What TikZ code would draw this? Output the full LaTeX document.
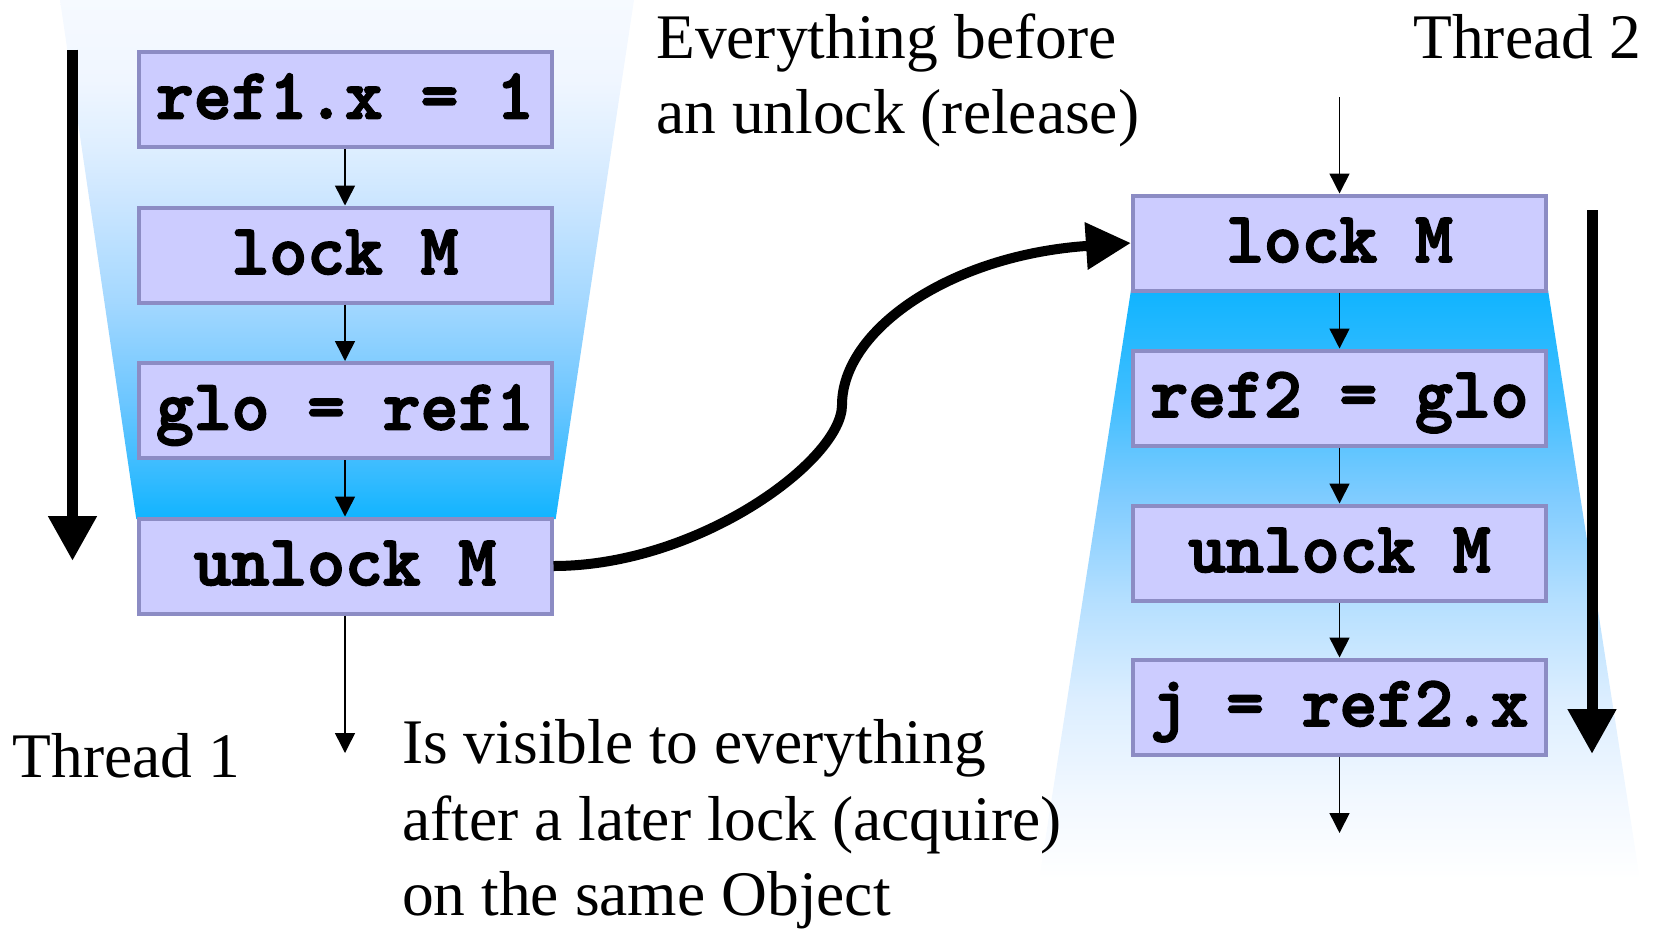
\documentclass[tikz,border=0pt]{standalone}
\usepackage{fontspec}
\setmainfont{Liberation Serif}
\newfontfamily\codefont{lmmonolt10-bold.otf}[FakeBold=2.5]
\usetikzlibrary{arrows.meta}
\definecolor{boxfill}{HTML}{CCCCFF}
\definecolor{boxline}{HTML}{8C8CC4}
\definecolor{sA}{HTML}{10B4FF}
\definecolor{sB}{HTML}{30BAFF}
\definecolor{sC}{HTML}{6CC6FF}
\definecolor{sD}{HTML}{A4D8FF}
\definecolor{sE}{HTML}{CCE6FF}
\definecolor{sF}{HTML}{DDEEFF}
\definecolor{sG}{HTML}{F0F6FF}
\definecolor{sH}{HTML}{F6FAFF}
\definecolor{rA}{HTML}{10B4FF}
\definecolor{rB}{HTML}{40BEFF}
\definecolor{rC}{HTML}{80CCFF}
\definecolor{rD}{HTML}{B4DFFF}
\definecolor{rE}{HTML}{DCEEFF}
\definecolor{rF}{HTML}{F2F8FF}
\definecolor{rG}{HTML}{FFFFFF}
\pgfdeclareverticalshading{trapL}{100bp}{color(0bp)=(sA); color(25bp)=(sA); color(28.6bp)=(sB); color(36.3bp)=(sC); color(46bp)=(sD); color(55.7bp)=(sE); color(60.5bp)=(sF); color(67.3bp)=(sG); color(75bp)=(sH); color(100bp)=(sH)}
\pgfdeclareverticalshading{trapR}{100bp}{color(0bp)=(rG); color(25bp)=(rG); color(31.8bp)=(rF); color(40.3bp)=(rE); color(48.8bp)=(rD); color(57.3bp)=(rC); color(65.8bp)=(rB); color(75bp)=(rA); color(100bp)=(rA)}
\begin{document}
\begin{tikzpicture}[x=1pt,y=-1pt,
  cbox/.style={draw=boxline, line width=4pt, fill=boxfill, minimum width=413pt, minimum height=95pt,
    inner sep=0pt, text height=38pt, text depth=0pt, font=\codefont\fontsize{72}{72}\selectfont},
  flow/.style={line width=1.5pt, -{Triangle[length=20pt,width=20pt]}},
  bigarrow/.style={line width=11pt, -{Triangle[length=45pt,width=46pt]}},
  bigcurve/.style={line width=10pt, -{Triangle[length=45pt,width=45pt]}},
  lbl/.style={inner sep=0pt, font=\fontsize{63.5}{76}\selectfont}]
\useasboundingbox (0,0) rectangle (1653,929);
% gradient backgrounds
\shade[shading=trapL] (60,0) -- (634,0) -- (555.7,519) -- (136.3,519) -- cycle;
\shade[shading=trapR] (1131,290) -- (1548,290) -- (1640,880) -- (1039,880) -- cycle;
% thread 1 boxes
\node[cbox] (a1) at (345,99.5) {ref1.x = 1};
\node[cbox] (a2) at (345,255) {lock M};
\node[cbox] (a3) at (345,410.5) {glo = ref1};
\node[cbox] (a4) at (345,566) {unlock M};
% thread 2 boxes
\node[cbox] (b1) at (1339.5,243) {lock M};
\node[cbox] (b2) at (1339.5,398) {ref2 = glo};
\node[cbox] (b3) at (1339.5,553) {unlock M};
\node[cbox] (b4) at (1339.5,707) {j = ref2.x};
% free ends
\coordinate (t1out) at (345,753);
\coordinate (t2in) at (1339.5,97);
\coordinate (t2out) at (1339.5,833);
\coordinate (th1s) at (72.5,49.5);
\coordinate (th1e) at (72.5,561);
\coordinate (th2s) at (1592,210);
\coordinate (th2e) at (1592,754);
\coordinate (mid) at (842,405);
% flow arrows
\draw[flow] (a1) -- (a2);
\draw[flow] (a2) -- (a3);
\draw[flow] (a3) -- (a4);
\draw[flow] (a4) -- (t1out);
\draw[flow] (t2in) -- (b1);
\draw[flow] (b1) -- (b2);
\draw[flow] (b2) -- (b3);
\draw[flow] (b3) -- (b4);
\draw[flow] (b4) -- (t2out);
% thick program-order arrows
\draw[bigarrow] (th1s) -- (th1e);
\draw[bigarrow] (th2s) -- (th2e);
% synchronisation curve
\draw[bigcurve] (a4.east) .. controls +(145,0) and +(0,55) .. (mid)
  .. controls +(0,-75) and +(-181,12) .. (b1.west);
% labels
\node[lbl, anchor=base west] (ev1) at (656,58) {Everything before};
\node[lbl, anchor=base west] (ev2) at (656,133) {an unlock (release)};
\node[lbl, anchor=base east] (th2) at (1641,58) {Thread 2};
\node[lbl, anchor=base west] (th1) at (12.6,777) {Thread 1};
\node[lbl, anchor=base west] (vi1) at (402,763) {Is visible to everything};
\node[lbl, anchor=base west] (vi2) at (402,840) {after a later lock (acquire)};
\node[lbl, anchor=base west] (vi3) at (402,915) {on the same Object};
\end{tikzpicture}
\end{document}
